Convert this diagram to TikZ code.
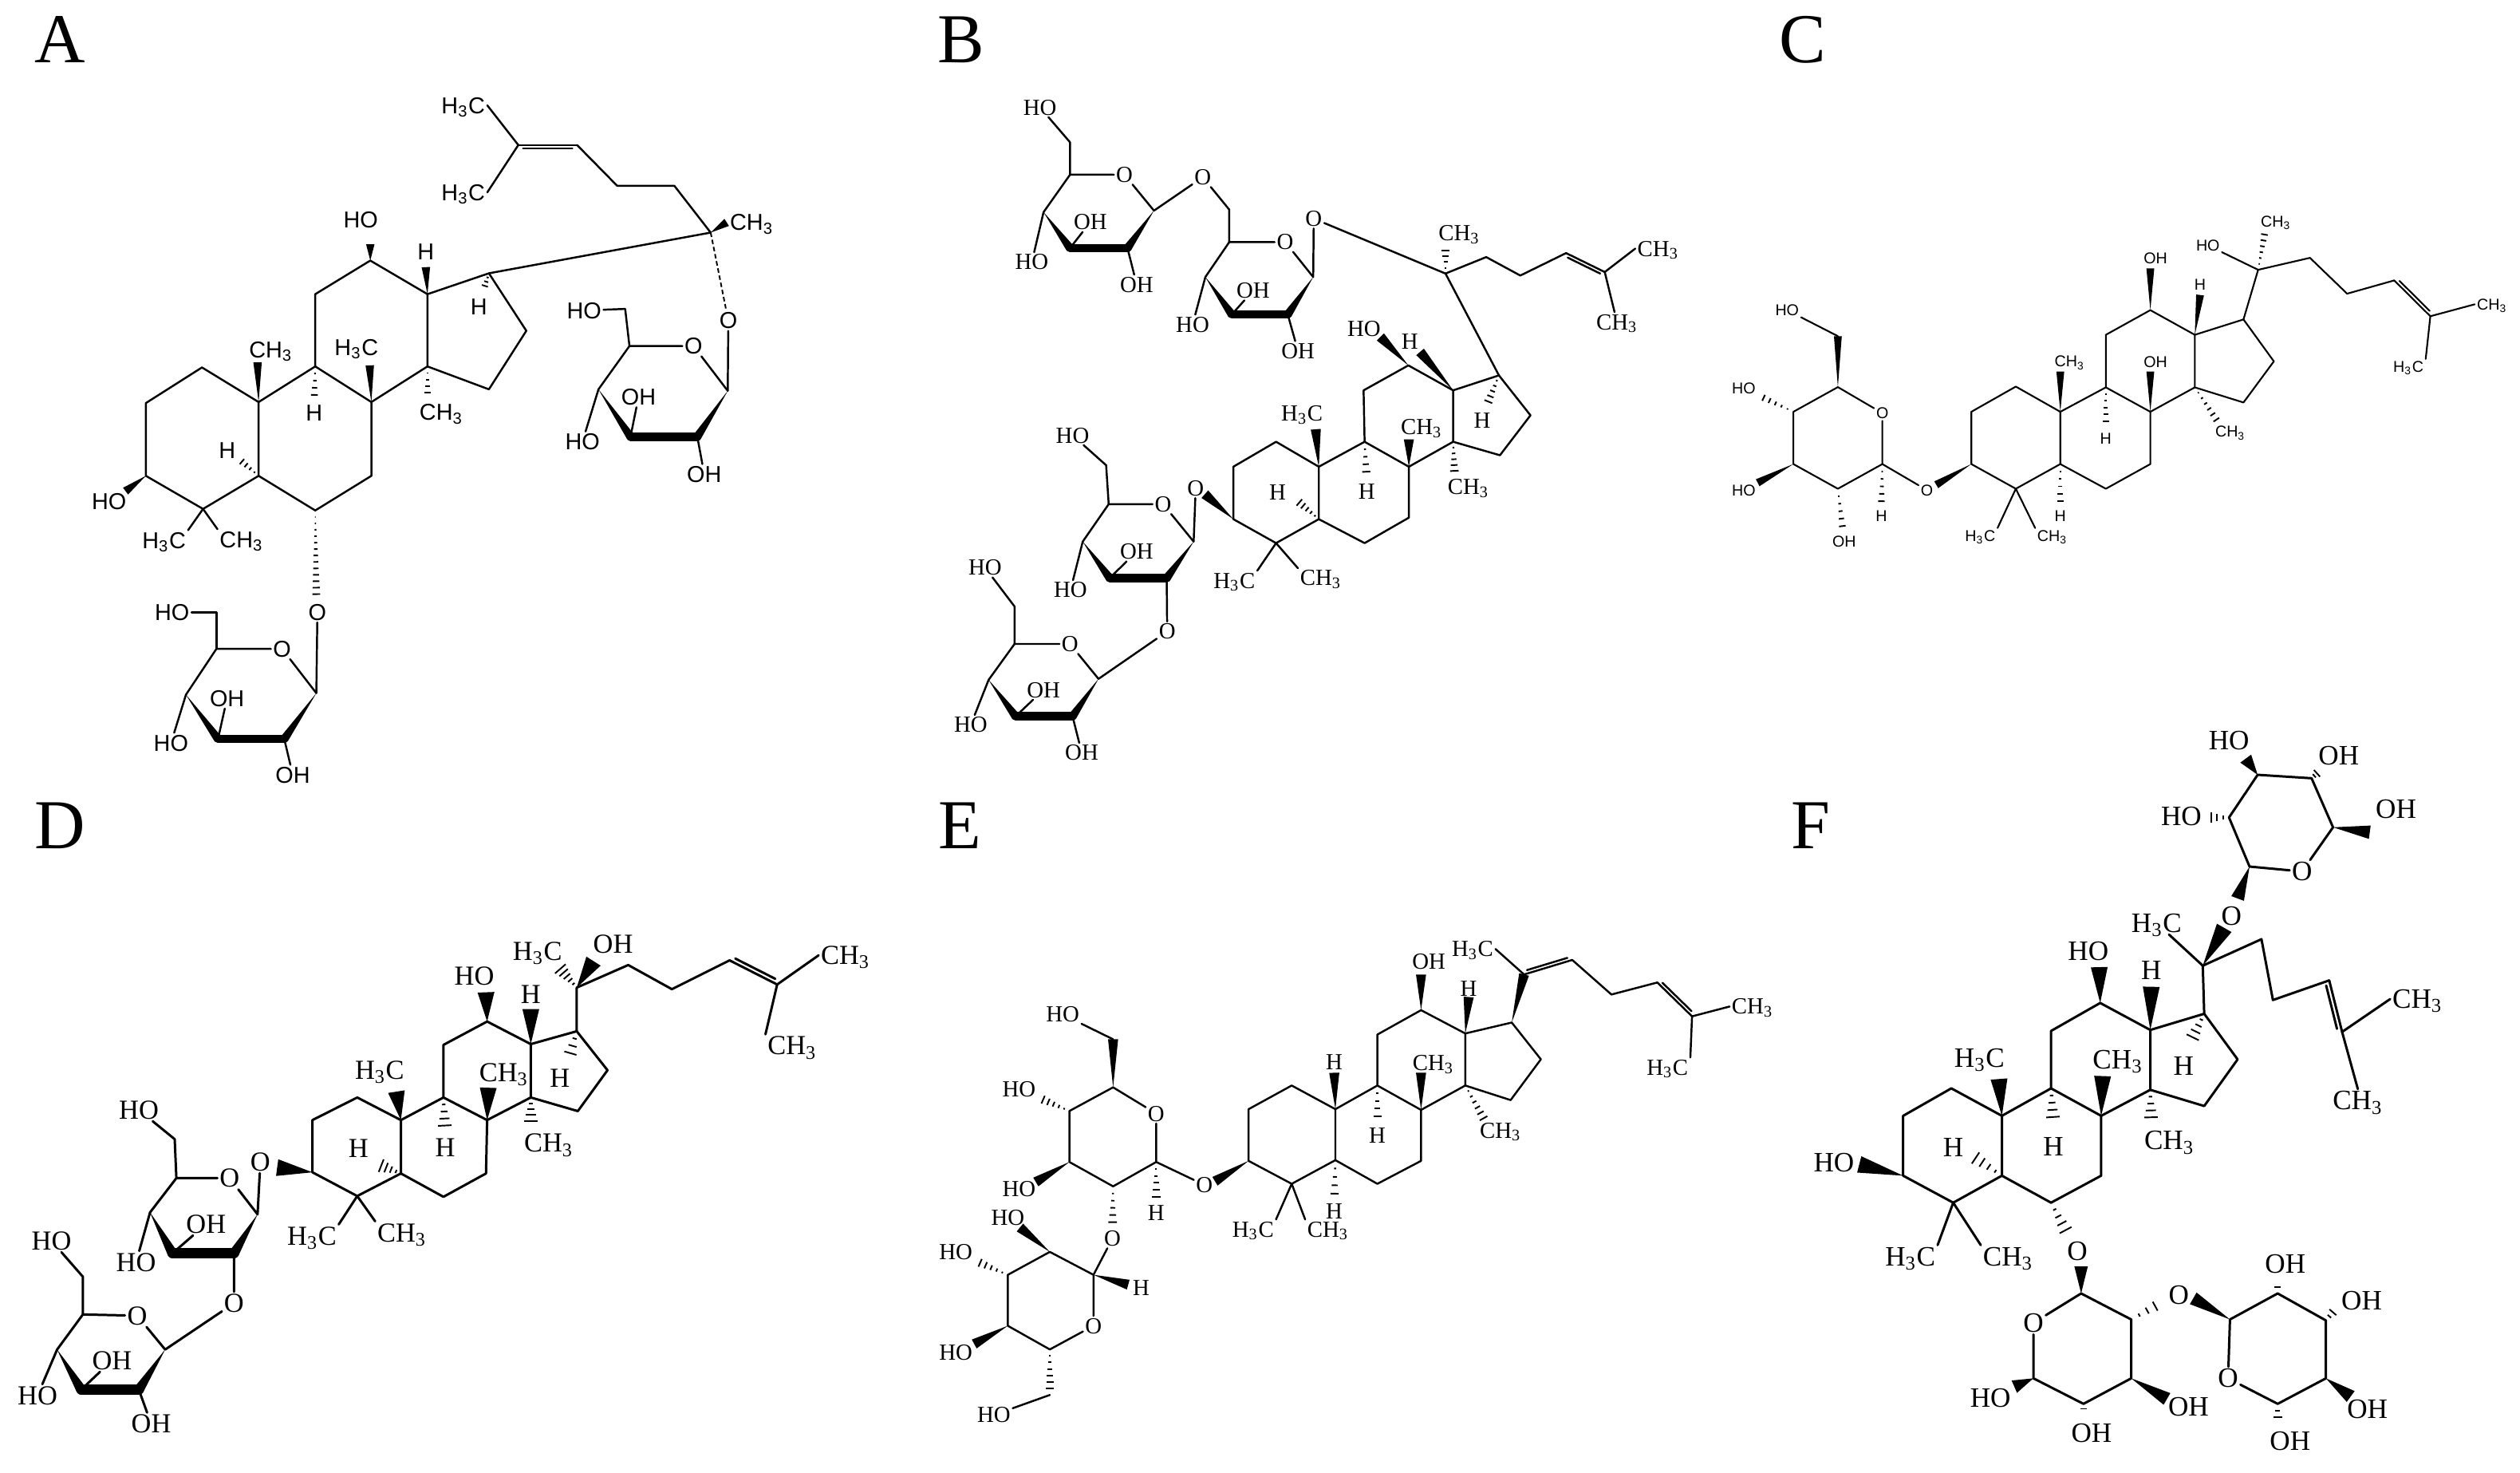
\documentclass[tikz,border=0pt]{standalone}
\usepackage{fontspec}
\setmainfont{Liberation Serif}
\newfontfamily\sansf{Liberation Sans}
\usetikzlibrary{calc}
\newcommand{\atoms}[1]{\foreach \n/\ax/\ay in {#1}{\coordinate (\n) at (\ax,\ay);}}
\def\wdgw{2pt}\def\lw{.7pt}\def\lf{\normalsize}
\newcommand{\Hc}{H\textsubscript{3}C}
\newcommand{\Ch}{CH\textsubscript{3}}
\tikzset{
 bond/.style={draw=black,line width=\lw,line join=round,line cap=round},
 boldb/.style={draw=black,line width=2*\wdgw,line cap=round},
 hashl/.style={draw=black,line width=.55pt},
 finedash/.style={draw=black,line width=.55pt,dash pattern=on 1.6pt off 1pt},
 lab/.style={inner sep=.6pt,text depth=0pt,font=\lf},
 letter/.style={inner sep=0pt,font=\fontsize{25}{25}\selectfont}
}
\newcommand{\wdg}[2]{\path (#1) -- (#2) coordinate[pos=1] (wtip);
 \fill[black] (#1) -- ($(wtip)!\wdgw!90:(#1)$) -- ($(wtip)!\wdgw!-90:(#1)$) -- cycle;}
\newcommand{\hsh}[3][6]{\path (#2) -- (#3) coordinate[pos=1] (wtip);
 \foreach \hi in {1,...,#1}{\pgfmathsetmacro\hp{\hi/#1}\pgfmathsetlengthmacro\hw{\hp*\wdgw}
 \draw[hashl] ($(#2)!\hp!(wtip)!\hw!90:(wtip)$) -- ($(#2)!\hp!(wtip)!\hw!-90:(wtip)$);}}
\newcommand{\dbl}[3]{\draw[bond] (#1)--(#2); \draw[bond] ($(#1)!.08!(#2)!#3!90:(#2)$) -- ($(#1)!.92!(#2)!#3!90:(#2)$);}
\begin{document}
\begin{tikzpicture}
\fill[white] (0,0) rectangle (31.59,-18.45);
\useasboundingbox (0,0) rectangle (31.59,-18.45);
\node[letter] (LA) at (.75,-.5) {A};
\node[letter] (LB) at (12.05,-.5) {B};
\node[letter] (LC) at (22.6,-.5) {C};
\node[letter] (LD) at (.75,-10.35) {D};
\node[letter] (LE) at (12.03,-10.35) {E};
\node[letter] (LF) at (22.7,-10.35) {F};

%% Panel A
\begin{scope}[x=.006697cm,y=-.006378cm]
\def\lf{\sansf\fontsize{8.2}{9}\selectfont}\def\lw{.7pt}\def\wdgw{1.5pt}
\atoms{a1/273/792,a2/378/722,a3/484/790,a4/484/935,a5/380/1000,a6/273/935,a7/590/720,a8/695/790,a9/695/935,a10/590/1003,a11/590/578,a12/693/512,a13/800/578,a14/800/720,a15/915/537,a16/985/650,a17/915/765,a18/1330/457,a19/1262/365,a20/1155/365,a21/1080/285,a22/970/285,
as1/1178/680,as2/1120/765,as3/1180/858,as4/1305/858,as5/1362/768,as6/1170/607,
ac1/405/1275,ac2/348/1365,ac3/408/1452,ac4/532/1452,ac5/592/1362,ac6/405/1203,
at1/1360/437,at2/693/480,at3/797/525,at4/905/570,at5/482/712,at6/692/718,at7/588/790,at8/800/785,at9/445/900,at10/235/965,at11/592/1180}
\node[lab] (aLa) at (867,207) {\Hc};\node[lab] (aLb) at (867,378) {\Hc};
\node[lab] (aLc) at (1407,437) {\Ch};\node[lab] (aLd) at (675,432) {HO};
\node[lab] (aLe) at (797,495) {H};\node[lab] (aLf) at (896,603) {H};
\node[lab] (aLg) at (507,687) {\Ch};\node[lab] (aLh) at (667,682) {\Hc};
\node[lab] (aLi) at (588,812) {H};\node[lab] (aLj) at (826,810) {\Ch};
\node[lab] (aLk) at (425,885) {H};\node[lab] (aLl) at (204,985) {HO};
\node[lab] (aLm) at (307,1062) {\Hc};\node[lab] (aLn) at (452,1060) {\Ch};
\node[lab] (aO1) at (594,1203) {O};\node[lab] (aO2) at (1363,630) {O};
\node[lab] (aO3) at (1298,680) {O};\node[lab] (aO4) at (528,1275) {O};
\node[lab] (aH1) at (1093,610) {HO};\node[lab] (aH2) at (1090,868) {HO};
\node[lab] (aH3) at (1195,780) {OH};\node[lab] (aH4) at (1318,932) {OH};
\node[lab] (aH5) at (322,1203) {HO};\node[lab] (aH6) at (320,1460) {HO};
\node[lab] (aH7) at (425,1372) {OH};\node[lab] (aH8) at (548,1523) {OH};
\draw[bond] (a1)--(a2)--(a3)--(a4)--(a5)--(a6)--cycle;
\draw[bond] (a3)--(a7)--(a8)--(a9)--(a10)--(a4);
\draw[bond] (a7)--(a11)--(a12)--(a13)--(a14)--(a8);
\draw[bond] (a13)--(a15)--(a16)--(a17)--(a14);
\draw[bond] (a15)--(a18)--(a19)--(a20)--(a21);
\dbl{a22}{a21}{-1.2pt}
\draw[bond] (a22)--(aLa.east);\draw[bond] (a22)--(aLb.east);
\wdg{a18}{at1}\wdg{a12}{at2}\wdg{a13}{at3}\hsh[4]{a15}{at4}\wdg{a3}{at5}\wdg{a8}{at6}
\hsh[5]{a7}{at7}\hsh[5]{a14}{at8}\hsh[5]{a4}{at9}\wdg{a6}{at10}\hsh[14]{a10}{at11}
\draw[bond] (a5)--(aLm.north east);\draw[bond] (a5)--(aLn.north west);
\draw[finedash] (a18)--(aO2);
\draw[bond] (aO2)--(as5)--(aO3)--(as1)--(as2);\draw[bond] (as1)--(as6)--(aH1);
\draw[bond] (as2)--(aH2);\draw[bond] (as3)--(aH3);\draw[bond] (as4)--(aH4);
\draw[bond] (aO1)--(ac5)--(aO4)--(ac1)--(ac2);\draw[bond] (ac1)--(ac6)--(aH5);
\draw[bond] (ac2)--(aH6);\draw[bond] (ac3)--(aH7);\draw[bond] (ac4)--(aH8);
\wdg{as2}{as3}\wdg{as5}{as4}\draw[boldb] (as3)--(as4);
\wdg{ac2}{ac3}\wdg{ac5}{ac4}\draw[boldb] (ac3)--(ac4);
\end{scope}

%% Panel B
\begin{scope}[shift={(11.2cm,0cm)},x=.006378cm,y=-.00625cm]
\def\lf{\fontsize{8.2}{9}\selectfont}\def\lw{.7pt}\def\wdgw{1.8pt}
\atoms{b1/668/935,b2/752/885,b3/836/935,b4/836/1040,b5/752/1088,b6/668/1040,b7/926/885,b8/1013/935,b9/1013/1037,b10/926/1088,b11/924/782,b12/1012/732,b13/1100/782,b14/1100/885,b15/1190/752,b16/1252/832,b17/1192/912,b18/1085/548,b19/1165/515,b20/1232/552,b21/1322/507,b22/1398/545,
bd1/660/485,bd2/613/555,bd3/665/630,bd4/775/630,bd5/825/555,bd6/660/420,
be1/347/350,be2/295/425,be3/347/497,be4/460/497,be5/512/422,be6/347/285,
bf1/423/1010,bf2/372/1085,bf3/425/1158,bf4/537/1158,bf5/590/1085,bf6/418/932,
bg1/238/1290,bg2/187/1362,bg3/240/1435,bg4/352/1435,bg5/403/1360,bg6/238/1215,
bt1/1085/490,bt2/957/675,bt3/1035/705,bt4/1165/815,bt5/830/860,bt6/1013/880,bt7/930/960,bt8/1103/955,bt9/790/1000,bt10/612/990}
\node[lab] (bLa) at (1112,467) {\Ch};\node[lab] (bLb) at (1503,498) {\Ch};
\node[lab] (bLc) at (1422,645) {\Ch};\node[lab] (bLd) at (925,658) {HO};
\node[lab] (bLe) at (1015,685) {H};\node[lab] (bLf) at (1157,842) {H};
\node[lab] (bLg) at (803,828) {\Hc};\node[lab] (bLh) at (1038,855) {\Ch};
\node[lab] (bLi) at (930,985) {H};\node[lab] (bLj) at (1130,975) {\Ch};
\node[lab] (bLk) at (755,987) {H};\node[lab] (bLm) at (670,1163) {\Hc};
\node[lab] (bLn) at (840,1158) {\Ch};
\node[lab] (bO1) at (826,438) {O};\node[lab] (bO2) at (770,485) {O};
\node[lab] (bO3) at (608,355) {O};\node[lab] (bO4) at (454,350) {O};
\node[lab] (bO5) at (594,978) {O};\node[lab] (bO6) at (530,1010) {O};
\node[lab] (bO7) at (538,1265) {O};\node[lab] (bO8) at (347,1290) {O};
\node[lab] (bH1) at (588,650) {HO};\node[lab] (bH2) at (707,582) {OH};\node[lab] (bH3) at (795,703) {OH};
\node[lab] (bH4) at (288,215) {HO};\node[lab] (bH5) at (272,525) {HO};\node[lab] (bH6) at (387,445) {OH};\node[lab] (bH7) at (478,570) {OH};
\node[lab] (bH8) at (352,872) {HO};\node[lab] (bH9) at (348,1182) {HO};\node[lab] (bH10) at (478,1105) {OH};
\node[lab] (bH11) at (180,1137) {HO};\node[lab] (bH12) at (152,1452) {HO};\node[lab] (bH13) at (295,1382) {OH};\node[lab] (bH14) at (370,1508) {OH};
\draw[bond] (b1)--(b2)--(b3)--(b4)--(b5)--(b6)--cycle;
\draw[bond] (b3)--(b7)--(b8)--(b9)--(b10)--(b4);
\draw[bond] (b7)--(b11)--(b12)--(b13)--(b14)--(b8);
\draw[bond] (b13)--(b15)--(b16)--(b17)--(b14);
\draw[bond] (b15)--(b18)--(b19)--(b20)--(b21);
\dbl{b21}{b22}{-1.2pt}
\draw[bond] (b22)--(bLb.west);\draw[bond] (b22)--(bLc);
\draw[bond] (bO1)--(b18);
\hsh[5]{b18}{bt1}\wdg{b12}{bt2}\wdg{b13}{bt3}\hsh[6]{b15}{bt4}\wdg{b3}{bt5}\wdg{b8}{bt6}
\hsh[5]{b7}{bt7}\hsh[6]{b14}{bt8}\hsh[6]{b4}{bt9}\wdg{b6}{bt10}
\draw[bond] (b5)--(bLm.north east);\draw[bond] (b5)--(bLn.north west);
\draw[bond] (bO1)--(bd5)--(bO2)--(bd1)--(bd2);\draw[bond] (bd1)--(bd6)--(bO3)--(be5)--(bO4)--(be1)--(be2);
\draw[bond] (bd2)--(bH1);\draw[bond] (bd3)--(bH2);\draw[bond] (bd4)--(bH3);
\draw[bond] (be1)--(be6)--(bH4);\draw[bond] (be2)--(bH5);\draw[bond] (be3)--(bH6);\draw[bond] (be4)--(bH7);
\draw[bond] (bO5)--(bf5)--(bO6)--(bf1)--(bf2);\draw[bond] (bf1)--(bf6)--(bH8);\draw[bond] (bf2)--(bH9);\draw[bond] (bf3)--(bH10);
\draw[bond] (bf4)--(bO7)--(bg5)--(bO8)--(bg1)--(bg2);\draw[bond] (bg1)--(bg6)--(bH11);\draw[bond] (bg2)--(bH12);\draw[bond] (bg3)--(bH13);\draw[bond] (bg4)--(bH14);
\def\wdgw{1.5pt}
\wdg{bd2}{bd3}\wdg{bd5}{bd4}\draw[boldb] (bd3)--(bd4);
\wdg{be2}{be3}\wdg{be5}{be4}\draw[boldb] (be3)--(be4);
\wdg{bf2}{bf3}\wdg{bf5}{bf4}\draw[boldb] (bf3)--(bf4);
\wdg{bg2}{bg3}\wdg{bg5}{bg4}\draw[boldb] (bg3)--(bg4);
\end{scope}

%% Panel C
\begin{scope}[shift={(21.3cm,-2.4cm)},x=.006562cm,y=-.003333cm]
\def\lf{\sansf\fontsize{5.6}{6}\selectfont}\def\lw{.6pt}\def\wdgw{1.4pt}
\atoms{h1/520/830,h2/605/735,h3/690/830,h4/690/1027,h5/605/1120,h6/520/1027,h7/777/738,h8/862/830,h9/862/1027,h10/777/1120,h11/777/540,h12/862/447,h13/947/540,h14/947/738,h15/1040/482,h16/1098/640,h17/1040/795,h18/1068/295,h19/1167/250,h20/1238/385,h21/1328/335,h22/1397/470,
i1/265/737,i2/180/830,i3/180/1027,i4/265/1120,i5/350/1027,i6/265/545,
ht1/1082/140,ht2/862/290,ht3/957/390,ht4/690/678,ht5/862/678,ht6/777/890,ht7/995/880,ht8/690/1195,ht9/453/1105,ht10/348/1195}
\node[lab] (cLa) at (1102,112) {\Ch};\node[lab] (cLb) at (972,203) {HO};
\node[lab] (cLc) at (1515,425) {\Ch};\node[lab] (cLd) at (1355,660) {\Hc};
\node[lab] (cLe) at (872,252) {OH};\node[lab] (cLf) at (957,352) {H};
\node[lab] (cLg) at (708,640) {\Ch};\node[lab] (cLh) at (872,642) {OH};
\node[lab] (cLi) at (777,930) {H};\node[lab] (cLj) at (1015,905) {\Ch};
\node[lab] (cLk) at (690,1222) {H};\node[lab] (cLm) at (537,1297) {\Hc};
\node[lab] (cLn) at (675,1297) {\Ch};\node[lab] (cO1) at (435,1125) {O};
\node[lab] (cO2) at (350,835) {O};\node[lab] (cH1) at (168,447) {HO};
\node[lab] (cH2) at (85,742) {HO};\node[lab] (cH3) at (85,1125) {HO};
\node[lab] (cH4) at (277,1318) {OH};\node[lab] (cH5) at (348,1222) {H};
\draw[bond] (h1)--(h2)--(h3)--(h4)--(h5)--(h6)--cycle;
\draw[bond] (h3)--(h7)--(h8)--(h9)--(h10)--(h4);
\draw[bond] (h7)--(h11)--(h12)--(h13)--(h14)--(h8);
\draw[bond] (h13)--(h15)--(h16)--(h17)--(h14);
\draw[bond] (h15)--(h18)--(h19)--(h20)--(h21);
\dbl{h21}{h22}{1.2pt}
\draw[bond] (h22)--(cLc.west);\draw[bond] (h22)--(cLd.north east);
\draw[bond] (h18)--(cLb);\hsh[7]{h18}{ht1}
\wdg{h12}{ht2}\wdg{h13}{ht3}\wdg{h3}{ht4}\wdg{h8}{ht5}\hsh[6]{h7}{ht6}\hsh[7]{h14}{ht7}\hsh[6]{h4}{ht8}\wdg{h6}{ht9}
\draw[bond] (h5)--(cLm.north east);\draw[bond] (h5)--(cLn.north west);
\draw[bond] (cO1)--(i5)--(i4)--(i3)--(i2)--(i1)--(cO2)--(i5);
\wdg{i1}{i6}\draw[bond] (i6)--(cH1);\hsh[6]{i2}{cH2}\wdg{i3}{cH3}\hsh[6]{i4}{cH4}\hsh[6]{i5}{ht10}
\end{scope}

%% Panel D
\begin{scope}[shift={(0cm,-10.8cm)},x=.007015cm,y=-.004878cm]
\def\lf{\fontsize{9.8}{11}\selectfont}\def\lw{.85pt}\def\wdgw{3pt}
\atoms{j1/558/663,j2/638/605,j3/716/663,j4/716/800,j5/638/858,j6/558/797,j7/792/605,j8/870/663,j9/868/800,j10/792/860,j11/792/470,j12/870/410,j13/948/468,j14/948/605,j15/1030/435,j16/1085/535,j17/1032/640,j18/1030/323,j19/1122/265,j20/1200/327,j21/1303/253,j22/1388/315,
k1/315/812,k2/268/900,k3/308/1005,k4/418/1005,k5/460/905,k6/312/712,
l1/148/1162,l2/102/1252,l3/145/1355,l4/248/1355,l5/295/1252,l6/148/1065,
jt1/995/265,jt2/1060/255,jt3/868/335,jt4/948/378,jt5/708/590,jt6/872/580,jt7/1015/510,jt8/795/695,jt9/948/680,jt10/672/775,jt11/495/785}
\node[lab] (dLa) at (1510,240) {\Ch};\node[lab] (dLb) at (1415,472) {\Ch};
\node[lab] (dLc) at (960,230) {\Hc};\node[lab] (dLd) at (1095,212) {OH};
\node[lab] (dLe) at (847,293) {HO};\node[lab] (dLf) at (948,340) {H};
\node[lab] (dLg) at (678,535) {\Hc};\node[lab] (dLh) at (900,540) {\Ch};
\node[lab] (dLi) at (1000,555) {H};\node[lab] (dLj) at (795,733) {H};
\node[lab] (dLk) at (980,722) {\Ch};\node[lab] (dLl) at (640,735) {H};
\node[lab] (dLm) at (557,960) {\Hc};\node[lab] (dLn) at (718,952) {\Ch};
\node[lab] (dO1) at (465,770) {O};\node[lab] (dO2) at (410,812) {O};
\node[lab] (dO3) at (418,1133) {O};\node[lab] (dO4) at (245,1165) {O};
\node[lab] (dH1) at (248,637) {HO};\node[lab] (dH2) at (243,1028) {HO};\node[lab] (dH3) at (368,930) {OH};
\node[lab] (dH4) at (92,973) {HO};\node[lab] (dH5) at (67,1370) {HO};\node[lab] (dH6) at (200,1280) {OH};\node[lab] (dH7) at (270,1443) {OH};
\draw[bond] (j1)--(j2)--(j3)--(j4)--(j5)--(j6)--cycle;
\draw[bond] (j3)--(j7)--(j8)--(j9)--(j10)--(j4);
\draw[bond] (j7)--(j11)--(j12)--(j13)--(j14)--(j8);
\draw[bond] (j13)--(j15)--(j16)--(j17)--(j14);
\draw[bond] (j15)--(j18)--(j19)--(j20)--(j21);
\dbl{j21}{j22}{1.5pt}
\draw[bond] (j22)--(dLa.west);\draw[bond] (j22)--(dLb.north west);
\hsh[6]{j18}{jt1}\wdg{j18}{jt2}\wdg{j12}{jt3}\wdg{j13}{jt4}\wdg{j3}{jt5}\wdg{j8}{jt6}
\hsh[4]{j15}{jt7}\hsh[5]{j7}{jt8}\hsh[5]{j14}{jt9}\hsh[5]{j4}{jt10}\wdg{j6}{jt11}
\draw[bond] (j5)--(dLm.north east);\draw[bond] (j5)--(dLn.north west);
\draw[bond] (dO1)--(k5)--(dO2)--(k1)--(k2);\draw[bond] (k1)--(k6)--(dH1);\draw[bond] (k2)--(dH2);\draw[bond] (k3)--(dH3);\draw[bond] (k4)--(dO3)--(l5)--(dO4)--(l1)--(l2);
\draw[bond] (l1)--(l6)--(dH4);\draw[bond] (l2)--(dH5);\draw[bond] (l3)--(dH6);\draw[bond] (l4)--(dH7);
\def\wdgw{1.8pt}
\wdg{k2}{k3}\wdg{k5}{k4}\draw[boldb] (k3)--(k4);
\wdg{l2}{l3}\wdg{l5}{l4}\draw[boldb] (l3)--(l4);
\end{scope}

%% Panel E
\begin{scope}[shift={(11.3cm,-11.3cm)},x=.007015cm,y=-.00456cm]
\def\lf{\fontsize{8.2}{9}\selectfont}\def\lw{.7pt}\def\wdgw{1.8pt}
\atoms{m1/620/570,m2/697/505,m3/775/570,m4/775/710,m5/697/775,m6/620/712,m7/850/505,m8/928/572,m9/928/712,m10/850/775,m11/850/365,m12/928/298,m13/1007/362,m14/1007/505,m15/1090/332,m16/1142/433,m17/1088/545,m18/1112/200,m19/1198/160,m20/1268/255,m21/1350/222,m22/1412/315,
n1/378/510,n2/300/575,n3/300/715,n4/378/782,n5/455/715,n6/378/378,
p1/343/1025,p2/265/962,p3/190/1025,p4/190/1165,p5/265/1230,p6/265/1355,
mt1/928/200,mt2/1013/262,mt3/773/470,mt4/928/470,mt5/850/610,mt6/1045/610,mt7/773/825,mt8/560/768,mt9/455/830,mt10/377/900,mt11/405/1052,mt12/240/770,mt13/130/985,mt14/130/1215}
\node[lab] (eLa) at (1020,130) {\Hc};\node[lab] (eLb) at (1520,288) {\Ch};
\node[lab] (eLc) at (1368,455) {\Hc};\node[lab] (eLd) at (942,165) {OH};
\node[lab] (eLe) at (1013,238) {H};\node[lab] (eLf) at (773,440) {H};
\node[lab] (eLg) at (950,443) {\Ch};\node[lab] (eLh) at (850,642) {H};
\node[lab] (eLi) at (1070,628) {\Ch};\node[lab] (eLj) at (773,850) {H};
\node[lab] (eLm) at (628,900) {\Hc};\node[lab] (eLn) at (762,900) {\Ch};
\node[lab] (eO1) at (541,778) {O};\node[lab] (eO2) at (455,582) {O};
\node[lab] (eO3) at (377,925) {O};\node[lab] (eO4) at (343,1165) {O};
\node[lab] (eH1) at (288,310) {HO};\node[lab] (eH2) at (210,515) {HO};
\node[lab] (eH3) at (210,790) {HO};\node[lab] (eH4) at (455,855) {H};
\node[lab] (eH5) at (428,1062) {H};\node[lab] (eH6) at (190,868) {HO};
\node[lab] (eH7) at (97,963) {HO};\node[lab] (eH8) at (97,1238) {HO};
\node[lab] (eH9) at (165,1410) {HO};
\draw[bond] (m1)--(m2)--(m3)--(m4)--(m5)--(m6)--cycle;
\draw[bond] (m3)--(m7)--(m8)--(m9)--(m10)--(m4);
\draw[bond] (m7)--(m11)--(m12)--(m13)--(m14)--(m8);
\draw[bond] (m13)--(m15)--(m16)--(m17)--(m14);
\wdg{m15}{m18}\draw[bond] (m18)--(eLa.east);
\dbl{m18}{m19}{1.2pt}
\draw[bond] (m19)--(m20)--(m21);
\dbl{m21}{m22}{1.2pt}
\draw[bond] (m22)--(eLb.west);\draw[bond] (m22)--(eLc.north east);
\wdg{m12}{mt1}\wdg{m13}{mt2}\wdg{m3}{mt3}\wdg{m8}{mt4}\hsh[5]{m7}{mt5}\hsh[7]{m14}{mt6}\hsh[5]{m4}{mt7}\wdg{m6}{mt8}
\draw[bond] (m5)--(eLm.north east);\draw[bond] (m5)--(eLn.north west);
\draw[bond] (eO1)--(n5)--(n4)--(n3)--(n2)--(n1)--(eO2)--(n5);
\wdg{n1}{n6}\draw[bond] (n6)--(eH1);\hsh[6]{n2}{eH2}\wdg{n3}{mt12}\hsh[6]{n4}{mt10}\hsh[6]{n5}{mt9}
\draw[bond] (eO3)--(p1)--(p2)--(p3)--(p4)--(p5)--(eO4)--(p1);
\wdg{p1}{mt11}\wdg{p2}{eH6}\hsh[6]{p3}{eH7}\wdg{p4}{mt14}\hsh[7]{p5}{p6}\draw[bond] (p6)--(eH9);
\end{scope}

%% Panel F
\begin{scope}[shift={(22.2cm,-8.8cm)},x=.005988cm,y=-.006154cm]
\def\lf{\fontsize{10}{11}\selectfont}\def\lw{.85pt}\def\wdgw{3pt}
\atoms{q1/277/843,q2/378/787,q3/484/843,q4/484/965,q5/382/1020,q6/277/965,q7/587/787,q8/692/843,q9/692/965,q10/587/1020,q11/587/670,q12/690/613,q13/795/668,q14/795/790,q15/908/635,q16/978/728,q17/908/823,q18/905/537,q19/1028/483,q20/1052/607,q21/1170/567,q22/1197/672,
r1/1003/335,r2/1178/255,r3/1133/155,r4/1020/148,r5/960/235,
s1/650/1205,s2/550/1378,s3/655/1430,s4/755/1378,s5/755/1258,
u1/962/1258,u2/1062/1205,u3/1163/1260,u4/1163/1378,u5/1062/1430,
qt1/950/460,qt2/688/540,qt3/797/580,qt4/478/768,qt5/695/762,qt6/878/695,qt7/592/860,qt8/797/860,qt9/415/920,qt10/185/942,qt11/625/1090,qt12/978/400,qt13/1255/265,qt14/1150/140,qt15/995/115,qt16/910/235,qt17/650/1150,qt18/822/1222,qt19/510/1395,qt20/655/1450,qt21/830/1420,qt22/885/1215,qt23/1062/1180,qt24/1185/1235,qt25/1215/1415,qt26/1062/1470}
\node[lab] (fLa) at (1355,605) {\Ch};\node[lab] (fLb) at (1230,812) {\Ch};
\node[lab] (fLc) at (808,450) {\Hc};\node[lab] (fLd) at (665,507) {HO};
\node[lab] (fLe) at (797,547) {H};\node[lab] (fLf) at (437,725) {\Hc};
\node[lab] (fLg) at (727,728) {\Ch};\node[lab] (fLh) at (865,742) {H};
\node[lab] (fLi) at (592,905) {H};\node[lab] (fLj) at (835,893) {\Ch};
\node[lab] (fLk) at (382,908) {H};\node[lab] (fLl) at (132,938) {HO};
\node[lab] (fLm) at (292,1130) {\Hc};\node[lab] (fLn) at (497,1130) {\Ch};
\node[lab] (fO1) at (965,435) {O};\node[lab] (fO2) at (1113,345) {O};
\node[lab] (fO3) at (642,1118) {O};\node[lab] (fO4) at (550,1265) {O};
\node[lab] (fO5) at (855,1208) {O};\node[lab] (fO6) at (958,1378) {O};
\node[lab] (fH1) at (1310,218) {OH};\node[lab] (fH2) at (1190,108) {OH};
\node[lab] (fH3) at (960,78) {HO};\node[lab] (fH4) at (860,233) {HO};
\node[lab] (fH5) at (460,1418) {HO};\node[lab] (fH6) at (672,1490) {OH};
\node[lab] (fH7) at (875,1435) {OH};\node[lab] (fH8) at (1078,1145) {OH};
\node[lab] (fH9) at (1238,1220) {OH};\node[lab] (fH10) at (1250,1440) {OH};
\node[lab] (fH11) at (1088,1505) {OH};
\draw[bond] (q1)--(q2)--(q3)--(q4)--(q5)--(q6)--cycle;
\draw[bond] (q3)--(q7)--(q8)--(q9)--(q10)--(q4);
\draw[bond] (q7)--(q11)--(q12)--(q13)--(q14)--(q8);
\draw[bond] (q13)--(q15)--(q16)--(q17)--(q14);
\draw[bond] (q15)--(q18)--(q19)--(q20)--(q21);
\dbl{q21}{q22}{-1.5pt}
\draw[bond] (q22)--(fLa.west);\draw[bond] (q22)--(fLb.north);
\draw[bond] (q18)--(fLc);
\wdg{q18}{qt1}\wdg{q12}{qt2}\wdg{q13}{qt3}\wdg{q3}{qt4}\wdg{q8}{qt5}\hsh[5]{q15}{qt6}\hsh[5]{q7}{qt7}\hsh[5]{q14}{qt8}\hsh[5]{q4}{qt9}\wdg{q6}{qt10}\hsh[5]{q10}{qt11}
\draw[bond] (q5)--(fLm.north east);\draw[bond] (q5)--(fLn.north west);
\draw[bond] (r1)--(fO2)--(r2)--(r3)--(r4)--(r5)--(r1);
\def\wdgw{2.4pt}
\wdg{r1}{qt12}\wdg{r2}{qt13}\hsh[3]{r3}{qt14}\wdg{r4}{qt15}\hsh[4]{r5}{qt16}
\draw[bond] (s1)--(fO4)--(s2)--(s3)--(s4)--(s5)--(s1);
\wdg{s1}{qt17}\hsh[4]{s5}{qt18}\wdg{s2}{qt19}\hsh[2]{s3}{qt20}\wdg{s4}{qt21}
\draw[bond] (u1)--(u2)--(u3)--(u4)--(u5)--(fO6)--(u1);
\wdg{u1}{qt22}\hsh[2]{u2}{qt23}\hsh[3]{u3}{qt24}\wdg{u4}{qt25}\hsh[3]{u5}{qt26}
\end{scope}
\end{tikzpicture}
\end{document}
